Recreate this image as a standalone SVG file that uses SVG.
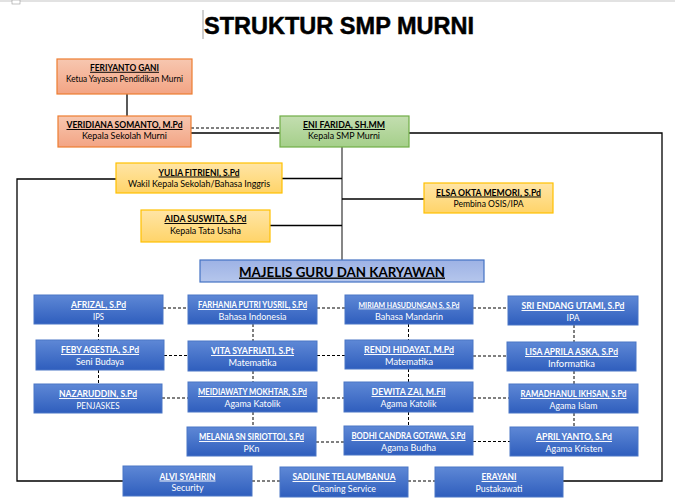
<svg xmlns="http://www.w3.org/2000/svg" width="675" height="500" viewBox="0 0 675 500">
<defs>
<linearGradient id="gO" x1="0" y1="0" x2="0" y2="1"><stop offset="0" stop-color="#f7c7b0"/><stop offset="1" stop-color="#f3a484"/></linearGradient>
<linearGradient id="gG" x1="0" y1="0" x2="0" y2="1"><stop offset="0" stop-color="#c3deb0"/><stop offset="1" stop-color="#a5cf8a"/></linearGradient>
<linearGradient id="gY" x1="0" y1="0" x2="0" y2="1"><stop offset="0" stop-color="#ffe5a6"/><stop offset="1" stop-color="#ffd469"/></linearGradient>
<linearGradient id="gB" x1="0" y1="0" x2="0" y2="1"><stop offset="0" stop-color="#5e88d6"/><stop offset="1" stop-color="#2f5ebd"/></linearGradient>
<linearGradient id="gM" x1="0" y1="0" x2="0" y2="1"><stop offset="0" stop-color="#9db2e5"/><stop offset="1" stop-color="#b5c6ec"/></linearGradient>
</defs>
<style>
.o{fill:url(#gO);stroke:#ed7d31;stroke-width:1.2}
.g{fill:url(#gG);stroke:#70ad47;stroke-width:1.2}
.y{fill:url(#gY);stroke:#ffc000;stroke-width:1.2}
.b{fill:url(#gB);stroke:#4a76c6;stroke-width:1}
.m{fill:url(#gM);stroke:#4472c4;stroke-width:1.2}
text{font-family:Lato,"Open Sans","Liberation Sans",sans-serif;text-anchor:middle}
.nd{font-size:9.6px;font-weight:bold;fill:#000;text-decoration:underline}
.sd{font-size:9.6px;fill:#000}
.nw{font-size:9.6px;font-weight:bold;fill:#fff;text-decoration:underline}
.sw{font-size:9.6px;fill:#fff}
.sol{fill:none;stroke:#000;stroke-width:1.3}
.dsh{fill:none;stroke:#000;stroke-width:1;stroke-dasharray:3 2}
</style>
<rect x="0" y="0" width="675" height="2" fill="#e2e2e2"/>
<rect x="12" y="0" width="8" height="4" fill="#fff" stroke="#999" stroke-width="0.6"/>
<line x1="203" y1="10" x2="203" y2="39" stroke="#777" stroke-width="0.7"/>
<text x="339" y="34" style="font-family:'Liberation Sans',Arial,sans-serif;font-size:24px;font-weight:bold;fill:#000;stroke:#000;stroke-width:0.5" textLength="270" lengthAdjust="spacingAndGlyphs">STRUKTUR SMP MURNI</text>

<g id="connectors">
<path class="sol" d="M127 94V116"/>
<path class="sol" d="M191 133H280"/>
<path class="dsh" d="M191 128H280"/>
<path class="sol" d="M409 133H662V481H563"/>
<path class="sol" d="M342 147V260" style="stroke:#444"/>
<path class="sol" d="M282 178.5H342"/>
<path class="sol" d="M270 225.5H342"/>
<path class="sol" d="M342 199H424"/>
<path class="sol" d="M116 179H17V481H123"/>
<path class="dsh" d="M163 308H188M317 308H345M473 308H508"/>
<path class="dsh" d="M164 355.5H188M317 355.5H345M473 356H507"/>
<path class="dsh" d="M162 398H188M317 398H344M473 398H509"/>
<path class="dsh" d="M316 442H344M473 441.5H510"/>
<path class="dsh" d="M252 481H280M408 481H435"/>
<path class="dsh" d="M98.5 324V340M98.5 370V384"/>
<path class="dsh" d="M253 324V341M253 371V382M253 412V427"/>
<path class="dsh" d="M408.5 324V340M408.5 369V382M408.5 412V426"/>
<path class="dsh" d="M574 325V342M574 371V384M574 413V427"/>
</g>

<g id="feriyanto"><rect class="o" x="57" y="59" width="135" height="35"/>
<text class="nd" x="124.5" y="70.8" textLength="69" lengthAdjust="spacingAndGlyphs">FERIYANTO GANI</text>
<text class="sd" x="124.5" y="82" textLength="117" lengthAdjust="spacingAndGlyphs">Ketua Yayasan Pendidikan Murni</text></g>

<g id="veridiana"><rect class="o" x="58" y="116" width="133" height="31"/>
<text class="nd" x="124.5" y="128" textLength="116" lengthAdjust="spacingAndGlyphs">VERIDIANA SOMANTO, M.Pd</text>
<text class="sd" x="124.5" y="139" textLength="85" lengthAdjust="spacingAndGlyphs">Kepala Sekolah Murni</text></g>

<g id="eni"><rect class="g" x="280" y="116" width="129" height="31"/>
<text class="nd" x="344" y="128" textLength="82" lengthAdjust="spacingAndGlyphs">ENI FARIDA, SH.MM</text>
<text class="sd" x="344" y="139" textLength="72" lengthAdjust="spacingAndGlyphs">Kepala SMP Murni</text></g>

<g id="yulia"><rect class="y" x="116" y="163" width="166" height="30"/>
<text class="nd" x="199" y="175.5" textLength="81" lengthAdjust="spacingAndGlyphs">YULIA FITRIENI, S.Pd</text>
<text class="sd" x="199" y="186.5" textLength="142" lengthAdjust="spacingAndGlyphs">Wakil Kepala Sekolah/Bahasa Inggris</text></g>

<g id="aida"><rect class="y" x="141" y="210" width="129" height="32"/>
<text class="nd" x="205.5" y="222" textLength="82" lengthAdjust="spacingAndGlyphs">AIDA SUSWITA, S.Pd</text>
<text class="sd" x="205.5" y="233.5" textLength="71" lengthAdjust="spacingAndGlyphs">Kepala Tata Usaha</text></g>

<g id="elsa"><rect class="y" x="424" y="183" width="129" height="30"/>
<text class="nd" x="488.5" y="195.5" textLength="105" lengthAdjust="spacingAndGlyphs">ELSA OKTA MEMORI, S.Pd</text>
<text class="sd" x="488.5" y="206.5" textLength="70" lengthAdjust="spacingAndGlyphs">Pembina OSIS/IPA</text></g>

<g id="majelis"><rect class="m" x="200" y="260" width="284" height="22"/>
<text x="342" y="276.5" style="font-size:14px;font-weight:bold;fill:#000;text-decoration:underline" textLength="206" lengthAdjust="spacingAndGlyphs">MAJELIS GURU DAN KARYAWAN</text></g>

<g id="afrizal"><rect class="b" x="34" y="295" width="129" height="29"/>
<text class="nw" x="98.5" y="308" textLength="55" lengthAdjust="spacingAndGlyphs">AFRIZAL, S.Pd</text>
<text class="sw" x="98.5" y="319.5" textLength="11" lengthAdjust="spacingAndGlyphs">IPS</text></g>

<g id="farhania"><rect class="b" x="188" y="295" width="129" height="29"/>
<text class="nw" x="252.5" y="308" textLength="109" lengthAdjust="spacingAndGlyphs">FARHANIA PUTRI YUSRIL, S.Pd</text>
<text class="sw" x="252.5" y="319.5" textLength="68" lengthAdjust="spacingAndGlyphs">Bahasa Indonesia</text></g>

<g id="miriam"><rect class="b" x="345" y="295" width="128" height="29"/>
<text class="nw" x="409" y="307.5" style="font-size:8px" textLength="101" lengthAdjust="spacingAndGlyphs">MIRIAM HASUDUNGAN S. S.Pd</text>
<text class="sw" x="409" y="319.5" textLength="68" lengthAdjust="spacingAndGlyphs">Bahasa Mandarin</text></g>

<g id="sri"><rect class="b" x="508" y="296" width="130" height="29"/>
<text class="nw" x="573" y="309" textLength="103" lengthAdjust="spacingAndGlyphs">SRI ENDANG UTAMI, S.Pd</text>
<text class="sw" x="573" y="320.5" textLength="13" lengthAdjust="spacingAndGlyphs">IPA</text></g>

<g id="feby"><rect class="b" x="36" y="340" width="128" height="30"/>
<text class="nw" x="100" y="353" textLength="78" lengthAdjust="spacingAndGlyphs">FEBY AGESTIA, S.Pd</text>
<text class="sw" x="100" y="364.5" textLength="48" lengthAdjust="spacingAndGlyphs">Seni Budaya</text></g>

<g id="vita"><rect class="b" x="188" y="341" width="129" height="30"/>
<text class="nw" x="252.5" y="354" textLength="83" lengthAdjust="spacingAndGlyphs">VITA SYAFRIATI, S.Pt</text>
<text class="sw" x="252.5" y="365.5" textLength="48" lengthAdjust="spacingAndGlyphs">Matematika</text></g>

<g id="rendi"><rect class="b" x="345" y="340" width="128" height="29"/>
<text class="nw" x="409" y="353" textLength="90" lengthAdjust="spacingAndGlyphs">RENDI HIDAYAT, M.Pd</text>
<text class="sw" x="409" y="364.5" textLength="48" lengthAdjust="spacingAndGlyphs">Matematika</text></g>

<g id="lisa"><rect class="b" x="507" y="342" width="129" height="29"/>
<text class="nw" x="571.5" y="355" textLength="93" lengthAdjust="spacingAndGlyphs">LISA APRILA ASKA, S.Pd</text>
<text class="sw" x="571.5" y="366.5" textLength="47" lengthAdjust="spacingAndGlyphs">Informatika</text></g>

<g id="nazaruddin"><rect class="b" x="34" y="384" width="128" height="29"/>
<text class="nw" x="98" y="397" textLength="78" lengthAdjust="spacingAndGlyphs">NAZARUDDIN, S.Pd</text>
<text class="sw" x="98" y="408.5" textLength="43" lengthAdjust="spacingAndGlyphs">PENJASKES</text></g>

<g id="meidiawaty"><rect class="b" x="188" y="382" width="129" height="30"/>
<text class="nw" x="252.5" y="395" textLength="109" lengthAdjust="spacingAndGlyphs">MEIDIAWATY MOKHTAR, S.Pd</text>
<text class="sw" x="252.5" y="406.5" textLength="56" lengthAdjust="spacingAndGlyphs">Agama Katolik</text></g>

<g id="dewita"><rect class="b" x="344" y="382" width="129" height="30"/>
<text class="nw" x="408.5" y="395" textLength="74" lengthAdjust="spacingAndGlyphs">DEWITA ZAI, M.Fil</text>
<text class="sw" x="408.5" y="406.5" textLength="56" lengthAdjust="spacingAndGlyphs">Agama Katolik</text></g>

<g id="ramadhanul"><rect class="b" x="509" y="384" width="129" height="29"/>
<text class="nw" x="573.5" y="397" textLength="106" lengthAdjust="spacingAndGlyphs">RAMADHANUL IKHSAN, S.Pd</text>
<text class="sw" x="573.5" y="408.5" textLength="48" lengthAdjust="spacingAndGlyphs">Agama Islam</text></g>

<g id="melania"><rect class="b" x="187" y="427" width="129" height="29"/>
<text class="nw" x="251.5" y="440" textLength="105" lengthAdjust="spacingAndGlyphs">MELANIA SN SIRIOTTOI, S.Pd</text>
<text class="sw" x="251.5" y="451.5" textLength="16" lengthAdjust="spacingAndGlyphs">PKn</text></g>

<g id="bodhi"><rect class="b" x="344" y="426" width="129" height="29"/>
<text class="nw" x="408.5" y="439" textLength="114" lengthAdjust="spacingAndGlyphs">BODHI CANDRA GOTAWA, S.Pd</text>
<text class="sw" x="408.5" y="450.5" textLength="55" lengthAdjust="spacingAndGlyphs">Agama Budha</text></g>

<g id="april"><rect class="b" x="510" y="427" width="128" height="29"/>
<text class="nw" x="574" y="440" textLength="76" lengthAdjust="spacingAndGlyphs">APRIL YANTO, S.Pd</text>
<text class="sw" x="574" y="451.5" textLength="57" lengthAdjust="spacingAndGlyphs">Agama Kristen</text></g>

<g id="alvi"><rect class="b" x="123" y="466" width="129" height="30"/>
<text class="nw" x="187.5" y="479.5" textLength="56" lengthAdjust="spacingAndGlyphs">ALVI SYAHRIN</text>
<text class="sw" x="187.5" y="491" textLength="32" lengthAdjust="spacingAndGlyphs">Security</text></g>

<g id="sadiline"><rect class="b" x="280" y="467" width="128" height="30"/>
<text class="nw" x="344" y="480" textLength="103" lengthAdjust="spacingAndGlyphs">SADILINE TELAUMBANUA</text>
<text class="sw" x="344" y="491.5" textLength="64" lengthAdjust="spacingAndGlyphs">Cleaning Service</text></g>

<g id="erayani"><rect class="b" x="435" y="467" width="128" height="30"/>
<text class="nw" x="499" y="480" textLength="35" lengthAdjust="spacingAndGlyphs">ERAYANI</text>
<text class="sw" x="499" y="491.5" textLength="47" lengthAdjust="spacingAndGlyphs">Pustakawati</text></g>
</svg>
